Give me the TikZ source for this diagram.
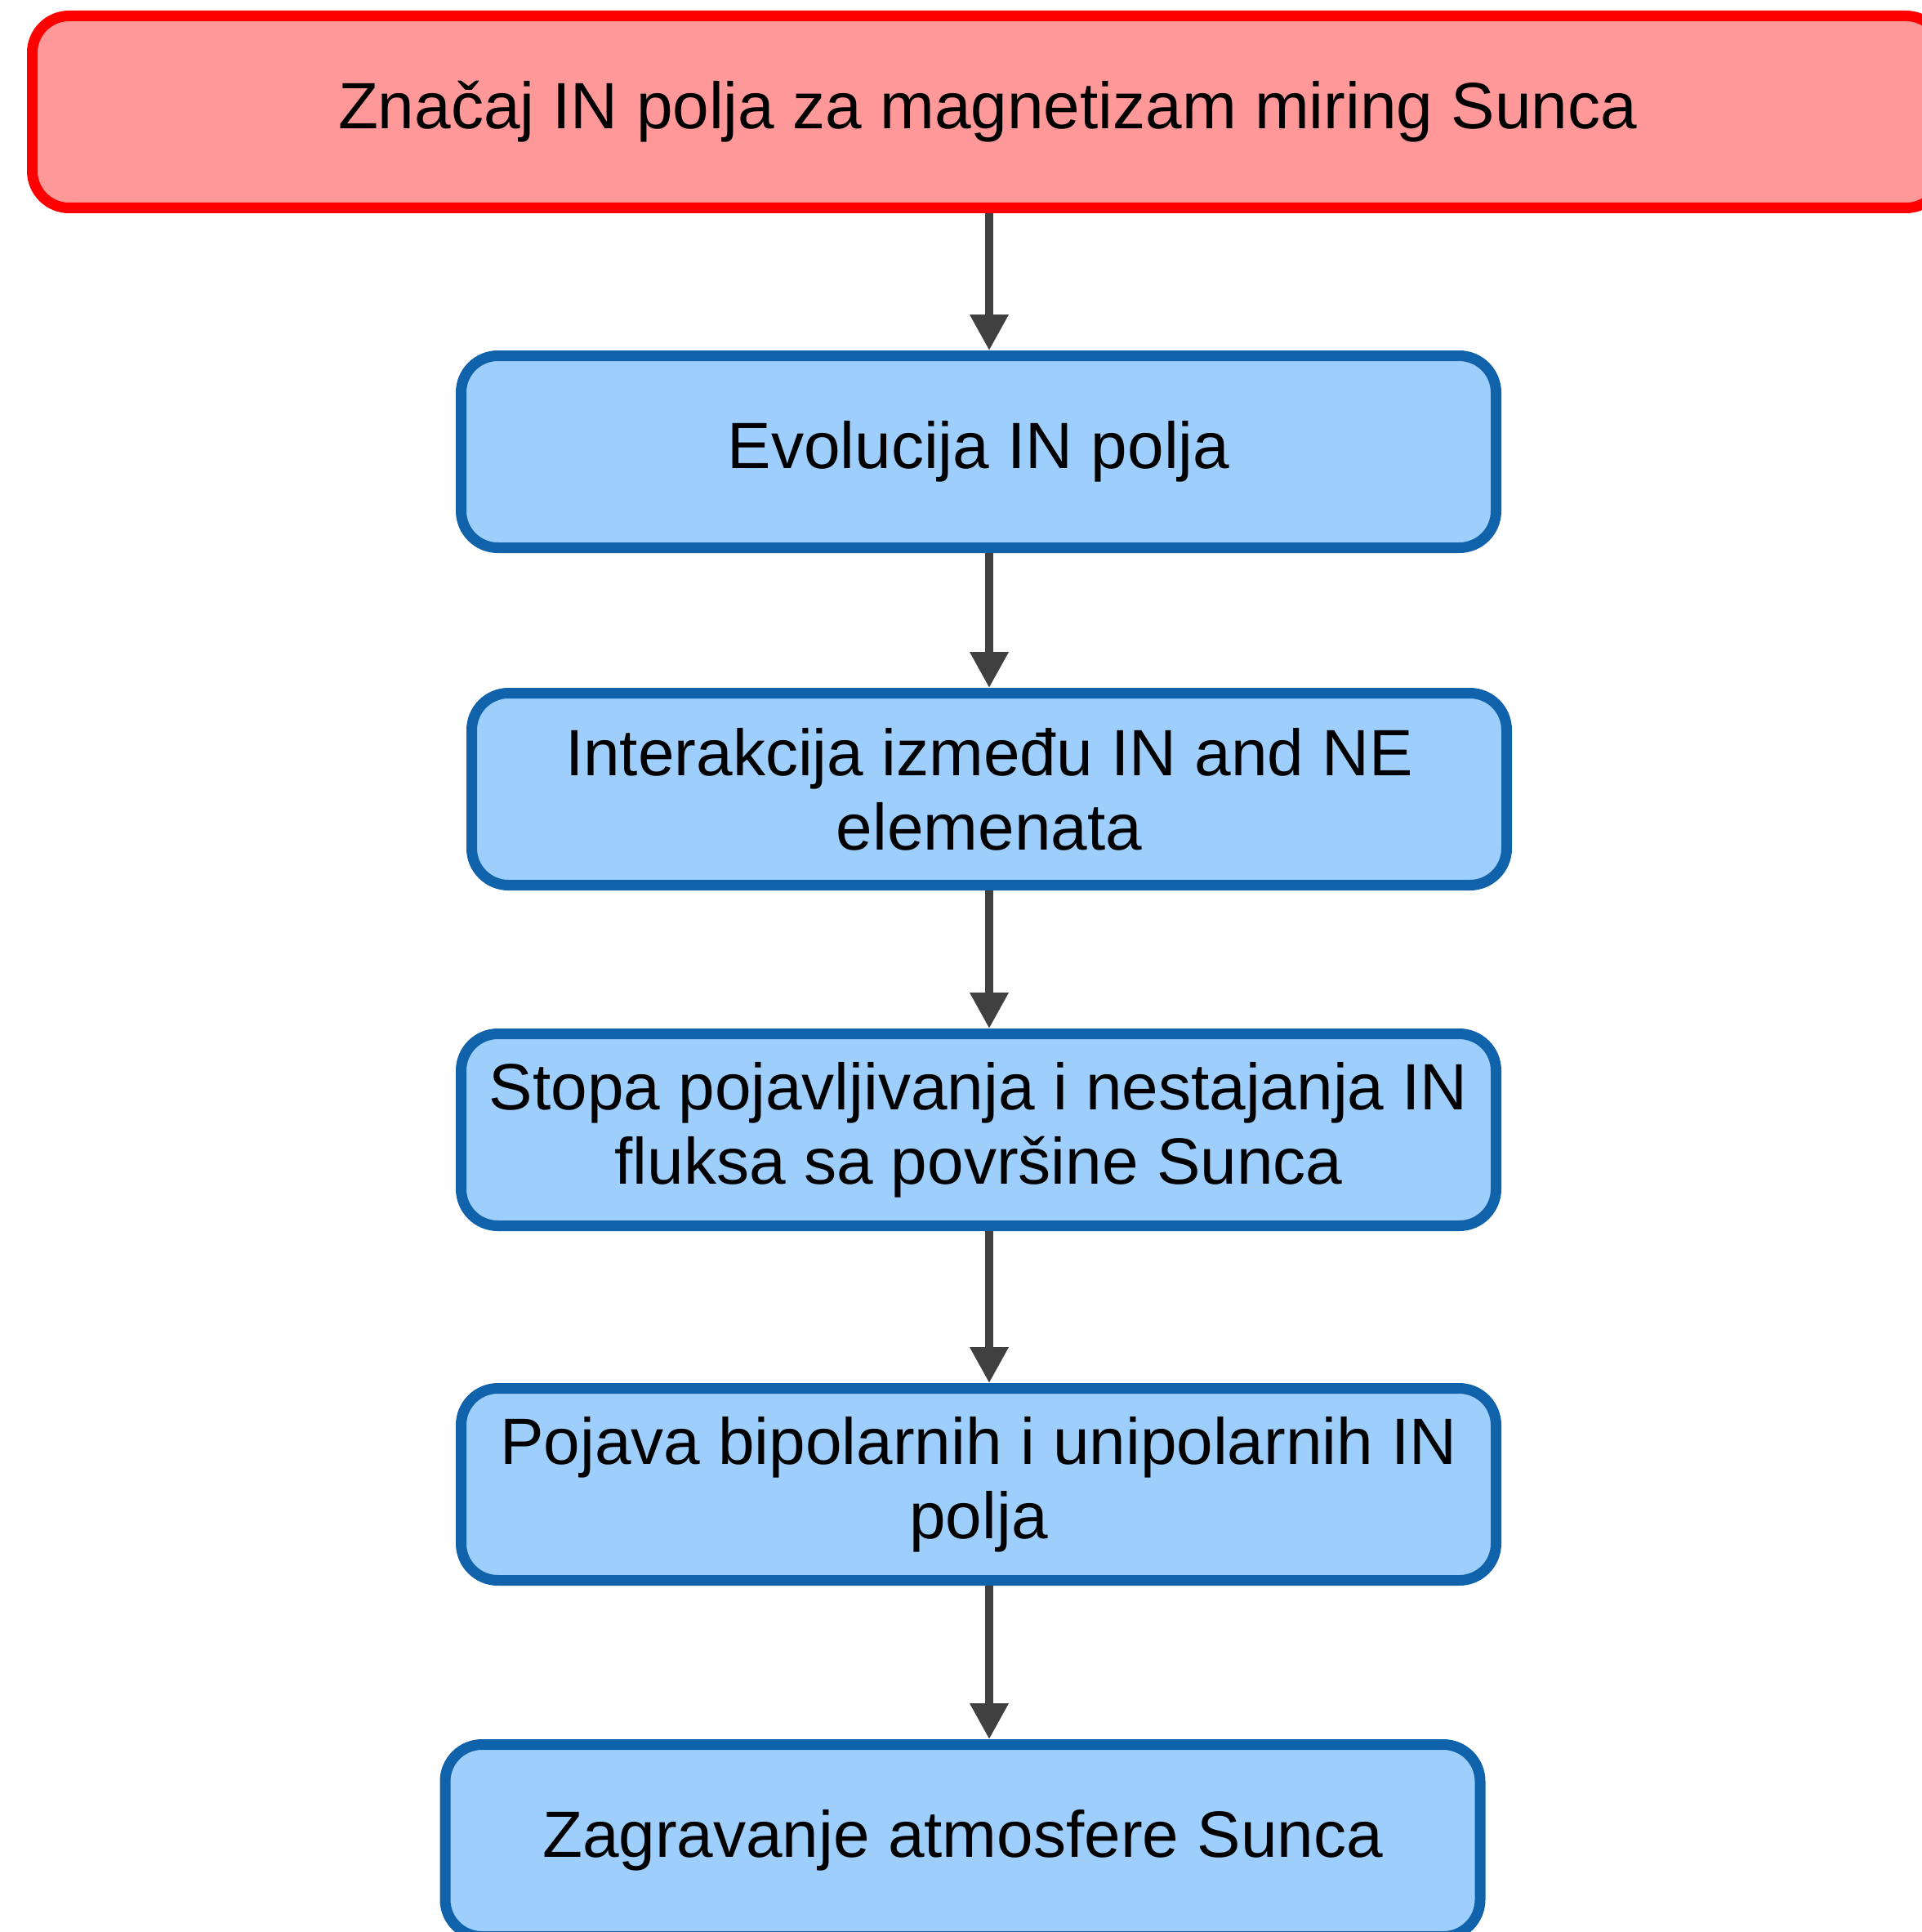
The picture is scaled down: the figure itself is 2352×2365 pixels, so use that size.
\documentclass[tikz,border=0pt]{standalone}
\usepackage{fontspec}
\setmainfont{Liberation Sans}
\usetikzlibrary{arrows.meta}

\definecolor{topline}{RGB}{255,0,0}
\definecolor{topfill}{RGB}{255,153,153}
\definecolor{boxline}{RGB}{16,99,170}
\definecolor{boxfill}{RGB}{158,206,251}
\definecolor{arrowgray}{RGB}{64,64,64}

\begin{document}
\begin{tikzpicture}[x=0.1mm, y=-0.1mm,
        topbox/.style={draw=topline, fill=topfill, line width=1.3mm, rounded corners=4.5mm,
            minimum width=233.9mm, minimum height=23.5mm, align=center,
            font=\fontsize{22.8}{25.9}\selectfont},
        stepbox/.style={draw=boxline, fill=boxfill, line width=1.3mm, rounded corners=4.5mm,
            minimum width=126.7mm, minimum height=23.5mm, align=center,
            font=\fontsize{22.8}{25.9}\selectfont},
        flow/.style={draw=arrowgray, line width=1mm,
            -{Triangle[length=4.4mm, width=4.5mm]}}]
        \useasboundingbox (0,0) rectangle (2352,2365);
        % the chain of boxes
        \node[topbox] (znacaj) at (1209,137) {Značaj IN polja za magnetizam miring Sunca};
        \node[stepbox] (evolucija) at (1198,553) {Evolucija IN polja};
        \node[stepbox] (interakcija) at (1211,966) {Interakcija između IN and NE\\elemenata};
        \node[stepbox] (stopa) at (1198,1383) {Stopa pojavljivanja i nestajanja IN\\fluksa sa površine Sunca};
        \node[stepbox] (pojava) at (1198,1817) {Pojava bipolarnih i unipolarnih IN\\polja};
        \node[stepbox] (zagravanje) at (1178.5,2253) {Zagravanje atmosfere Sunca};
        % arrows
        \coordinate (ax) at (1211,0);
        \draw[flow] (znacaj.south -| ax) -- (evolucija.north -| ax);
        \draw[flow] (evolucija.south -| ax) -- (interakcija.north -| ax);
        \draw[flow] (interakcija.south -| ax) -- (stopa.north -| ax);
        \draw[flow] (stopa.south -| ax) -- (pojava.north -| ax);
        \draw[flow] (pojava.south -| ax) -- (zagravanje.north -| ax);
    \end{tikzpicture}
\end{document}
